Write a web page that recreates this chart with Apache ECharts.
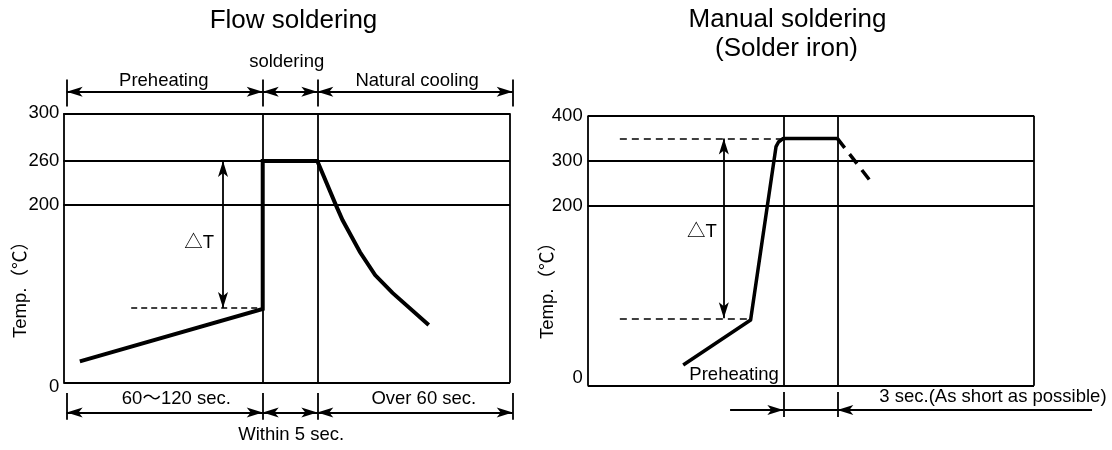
<!DOCTYPE html>
<html><head><meta charset="utf-8">
<script src="https://cdn.jsdelivr.net/npm/echarts@6/dist/echarts.min.js"></script>
<style>html,body{margin:0;padding:0;background:#fff}#c{width:1112px;height:450px}</style>
</head><body><div id="c"></div>
<script>
// ================= DATA =================
// Flow soldering (left) – schematic, non-linear temperature axis
const flowTickTemps  = [0, 200, 260, 300];
const flowTickLabels = ['0', '200', '260', '300'];
const flowTickPos    = [0, 66.0, 82.3, 100];          // where each tick sits (% of plot height)
const flowCurveTime  = [3.7, 44.64, 44.64, 56.86, 61.0, 62.5, 66.4, 69.8, 73.7, 81.8];
const flowCurveTemp  = [24, 83, 260, 260, 200, 183, 147, 121, 101, 65];
const flowPhaseTime  = [0.75, 44.64, 56.86, 100.6];   // phase markers (time units)
const flowPhaseTop   = ['Preheating', 'soldering', 'Natural cooling'];
const flowPhaseBottom= ['60～120 sec.', 'Within 5 sec.', 'Over 60 sec.'];
const flowDeltaT     = {time: 35.75, low: 84, high: 260, dashFrom: 15.2, label: '△T'};

// Manual soldering (right)
const manTickTemps  = [0, 200, 300, 400];
const manTickLabels = ['0', '200', '300', '400'];
const manTickPos    = [0, 66.6, 83.2, 100];
const manCurveTime  = [21.4, 36.5, 42.2, 42.75, 43.83, 55.93];
const manCurveTemp  = [23, 73, 332, 342, 350, 350];
const manCoolTime   = [55.93, 64.0];
const manCoolTemp   = [350, 247];
const manPhaseTime  = [43.83, 55.93];
const manArrowTail  = [31.9, 113];
const manDeltaT     = {time: 30.5, low: 75, high: 350, dashFrom: 7.2, lowEnd: 36.5, label: '△T'};
const manTexts      = {preheat: 'Preheating', duration: '3 sec.(As short as possible)'};

// ================= HELPERS =================
const FONT = '"Liberation Sans", Arial, "Noto Sans CJK JP", sans-serif';
const FS = 18.5;
function toDisp(t, temps, pos) {
  for (let i = 1; i < temps.length; i++) {
    if (t <= temps[i] || i === temps.length - 1) {
      const f = (t - temps[i - 1]) / (temps[i] - temps[i - 1]);
      return pos[i - 1] + f * (pos[i] - pos[i - 1]);
    }
  }
}
function seg(a, b) { return [{coord: a}, {coord: b}]; }
function ml(gi, lines, style, symbols) {
  return {
    type: 'line', xAxisIndex: gi, yAxisIndex: gi, data: [], silent: true, animation: false,
    markLine: {
      silent: true, animation: false,
      symbol: symbols || ['none', 'none'],
      symbolSize: [7.5, 16],
      label: {show: false}, emphasis: {disabled: true},
      itemStyle: {color: '#000'},
      lineStyle: Object.assign({color: '#000', type: 'solid', width: 1.8, opacity: 1}, style),
      data: lines
    }
  };
}
function texts(gi, items) {
  return {
    type: 'scatter', xAxisIndex: gi, yAxisIndex: gi, silent: true, animation: false,
    symbolSize: 1, itemStyle: {color: 'rgba(0,0,0,0)', opacity: 1}, clip: false,
    label: {show: true, position: 'inside', formatter: '{b}', color: '#000', opacity: 1,
            fontSize: FS, fontFamily: FONT, textBorderWidth: 0},
    data: items.map(d => ({name: d[0], value: [d[1], d[2]]}))
  };
}
function tickFmt(pos, labels) {
  return v => {
    const i = pos.findIndex(p => Math.abs(p - v) < 0.01);
    if (i < 0) return '';
    return i === 0 ? '{z|' + labels[0] + '}' : labels[i];
  };
}

// ================= LEFT CHART =================
const fT = t => toDisp(t, flowTickTemps, flowTickPos);
const L = {topY: 108, barTop: [102.5, 112.5], botY: -11.1, barBot: [-3.8, -13.8]};
const leftPlain = [
  seg([0, 0], [100, 0]), seg([0, 100], [100, 100]), seg([0, 0], [0, 100]), seg([100, 0], [100, 100]),
  ...flowTickTemps.slice(1, -1).map(t => seg([0, fT(t)], [100, fT(t)])),
  ...flowPhaseTime.slice(1, -1).map(x => seg([x, 0], [x, 100])),
  ...flowPhaseTime.map(x => seg([x, L.barTop[0]], [x, L.barTop[1]])),
  ...flowPhaseTime.map(x => seg([x, L.barBot[0]], [x, L.barBot[1]]))
];
const leftArrows = [];
for (let i = 0; i < flowPhaseTime.length - 1; i++) {
  leftArrows.push(seg([flowPhaseTime[i], L.topY], [flowPhaseTime[i + 1], L.topY]));
  leftArrows.push(seg([flowPhaseTime[i], L.botY], [flowPhaseTime[i + 1], L.botY]));
}
leftArrows.push(seg([flowDeltaT.time, fT(flowDeltaT.low)], [flowDeltaT.time, fT(flowDeltaT.high)]));
const leftTexts = [
  [flowPhaseTop[0], 22.5, 112.0], [flowPhaseTop[1], 50.0, 119.2], [flowPhaseTop[2], 79.2, 112.0],
  [flowPhaseBottom[0], 25.3, -6.05], [flowPhaseBottom[1], 51.0, -19.4], [flowPhaseBottom[2], 80.7, -6.05],
  [flowDeltaT.label, 30.4, fT(157)]
];

// ================= RIGHT CHART =================
const mT = t => toDisp(t, manTickTemps, manTickPos);
const R = {botY: -9.0, barBot: [-2.3, -11.6]};
const rightPlain = [
  seg([0, 0], [100, 0]), seg([0, 100], [100, 100]), seg([0, 0], [0, 100]), seg([100, 0], [100, 100]),
  ...manTickTemps.slice(1, -1).map(t => seg([0, mT(t)], [100, mT(t)])),
  ...manPhaseTime.map(x => seg([x, 0], [x, 100])),
  ...manPhaseTime.map(x => seg([x, R.barBot[0]], [x, R.barBot[1]])),
  seg([manPhaseTime[0], R.botY], [manPhaseTime[1], R.botY])
];
const rightSingle = [
  seg([manArrowTail[0], R.botY], [manPhaseTime[0], R.botY]),
  seg([manArrowTail[1], R.botY], [manPhaseTime[1], R.botY])
];
const rightDouble = [seg([manDeltaT.time, mT(manDeltaT.low)], [manDeltaT.time, mT(manDeltaT.high)])];
const rightDashed = [
  seg([manDeltaT.dashFrom, mT(manDeltaT.high)], [manPhaseTime[0], mT(manDeltaT.high)]),
  seg([manDeltaT.dashFrom, mT(manDeltaT.low)], [manDeltaT.lowEnd, mT(manDeltaT.low)])
];
const rightTexts = [
  [manDeltaT.label, 25.6, mT(171)],
  [manTexts.preheat, 32.8, 3.96],
  [manTexts.duration, 90.8, -4.2]
];

function yAxis(pos, labels, margin, zeroPad) {
  return {
    type: 'value', min: -22, max: 124,
    axisLine: {show: false}, axisTick: {show: false}, splitLine: {show: false},
    axisLabel: {
      customValues: pos, formatter: tickFmt(pos, labels), margin: margin,
      color: '#000', fontSize: FS, fontFamily: FONT,
      rich: {z: {color: '#000', fontSize: FS, fontFamily: FONT, padding: zeroPad}}
    }
  };
}

const option = {
  backgroundColor: '#fff',
  animation: false,
  grid: [
    {left: 63.3, top: 48.64, width: 451.2, height: 393.3},
    {left: 587.7, top: 50.9, width: 508.8, height: 394.2}
  ],
  xAxis: [
    {type: 'value', min: 0, max: 101, show: false, gridIndex: 0},
    {type: 'value', min: 0, max: 114, show: false, gridIndex: 1}
  ],
  yAxis: [
    Object.assign(yAxis(flowTickPos, flowTickLabels, 4, [8, 0, 0, 0]), {gridIndex: 0}),
    Object.assign(yAxis(manTickPos, manTickLabels, 5, [0, 0, 16, 0]), {gridIndex: 1})
  ],
  graphic: [
    {type: 'text', x: 293.5, y: 20.5, silent: true, style: {text: 'Flow soldering', font: '26px ' + FONT, fill: '#000', align: 'center', verticalAlign: 'middle'}},
    {type: 'text', x: 787.5, y: 19.5, silent: true, style: {text: 'Manual soldering', font: '26px ' + FONT, fill: '#000', align: 'center', verticalAlign: 'middle'}},
    {type: 'text', x: 786.5, y: 49, silent: true, style: {text: '(Solder iron)', font: '26px ' + FONT, fill: '#000', align: 'center', verticalAlign: 'middle'}},
    {type: 'text', x: 21.3, y: 285, rotation: Math.PI / 2, silent: true, style: {text: 'Temp.（℃）', font: FS + 'px ' + FONT, fill: '#000', align: 'center', verticalAlign: 'middle'}},
    {type: 'text', x: 547.8, y: 286, rotation: Math.PI / 2, silent: true, style: {text: 'Temp.（℃）', font: FS + 'px ' + FONT, fill: '#000', align: 'center', verticalAlign: 'middle'}}
  ],
  series: [
    ml(0, leftPlain, {width: 1.8}),
    ml(0, leftArrows, {width: 1.8}, ['arrow', 'arrow']),
    ml(0, [seg([flowDeltaT.dashFrom, fT(flowDeltaT.low)], [flowPhaseTime[1], fT(flowDeltaT.low)])], {width: 1.5, type: [6, 4]}),
    {
      type: 'line', xAxisIndex: 0, yAxisIndex: 0, silent: true, animation: false, symbol: 'none',
      lineStyle: {color: '#000', width: 4, join: 'miter', cap: 'butt'},
      data: flowCurveTime.map((x, i) => [x, fT(flowCurveTemp[i])])
    },
    texts(0, leftTexts),

    ml(1, rightPlain, {width: 1.8}),
    ml(1, rightSingle, {width: 2.2}, ['none', 'arrow']),
    ml(1, rightDouble, {width: 1.8}, ['arrow', 'arrow']),
    ml(1, rightDashed, {width: 1.5, type: [7, 5]}),
    {
      type: 'line', xAxisIndex: 1, yAxisIndex: 1, silent: true, animation: false, symbol: 'none',
      lineStyle: {color: '#000', width: 3.5, join: 'round', cap: 'butt'},
      data: manCurveTime.map((x, i) => [x, mT(manCurveTemp[i])])
    },
    {
      type: 'line', xAxisIndex: 1, yAxisIndex: 1, silent: true, animation: false, symbol: 'none',
      lineStyle: {color: '#000', width: 3.5, type: [12, 8], cap: 'butt'},
      data: manCoolTime.map((x, i) => [x, mT(manCoolTemp[i])])
    },
    texts(1, rightTexts)
  ]
};
const chart = echarts.init(document.getElementById('c'), null, {renderer: 'canvas'});
chart.setOption(option);
</script></body></html>
